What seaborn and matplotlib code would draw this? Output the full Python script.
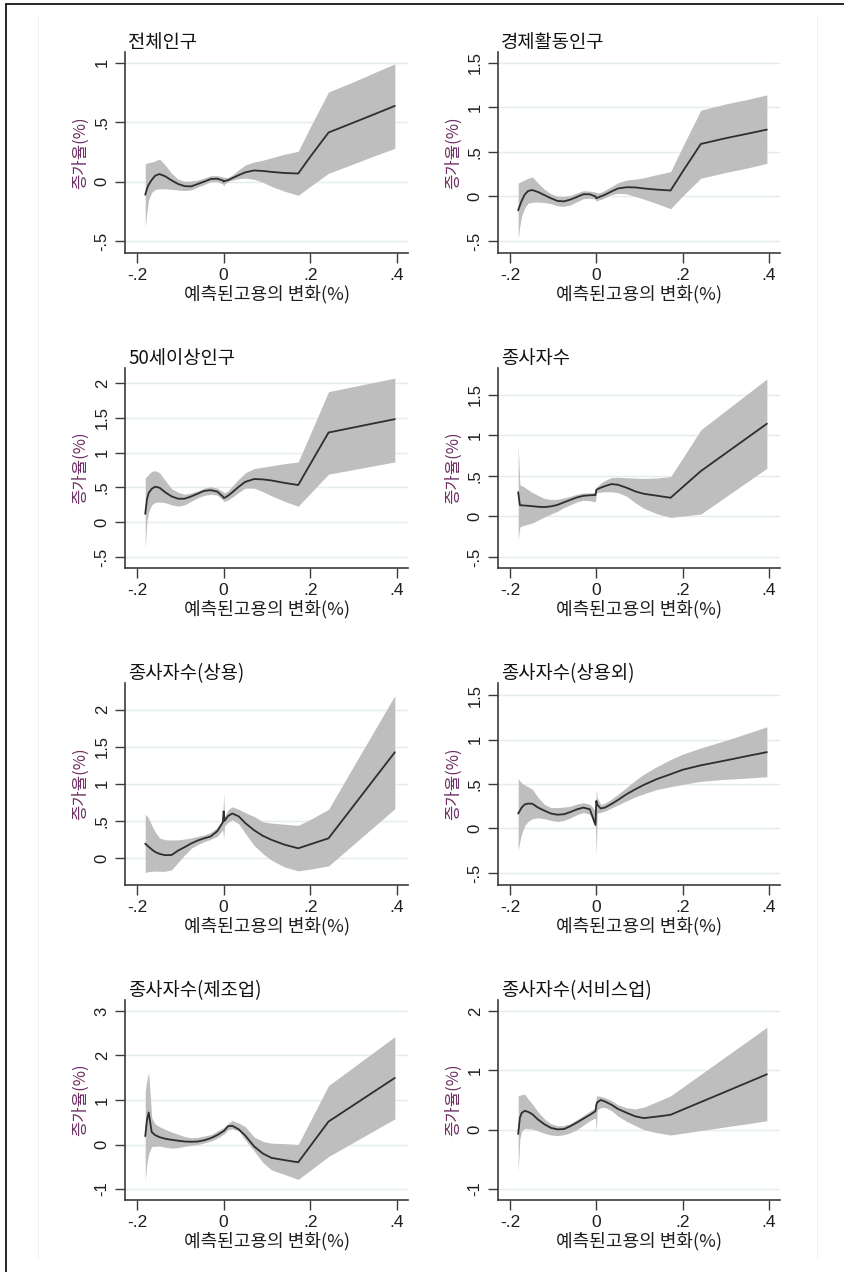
import matplotlib
matplotlib.use("Agg")
import matplotlib.pyplot as plt
from matplotlib.lines import Line2D
from matplotlib.ticker import FuncFormatter
import pandas as pd
import seaborn as sns

sns.set_theme(style="white")
plt.rcParams["font.family"] = ["Liberation Sans", "Noto Sans CJK KR", "DejaVu Sans"]
KR = ["Noto Sans CJK KR", "DejaVu Sans"]

# Predicted change in employment (%) at which the local fits are evaluated
x_grid = [-0.181, -0.177, -0.173, -0.166, -0.158, -0.148, -0.135, -0.120, -0.105,
          -0.090, -0.075, -0.060, -0.045, -0.030, -0.015, -0.002, 0.000, 0.002,
          0.010, 0.020, 0.035, 0.050, 0.070, 0.090, 0.110, 0.140, 0.172, 0.200,
          0.242, 0.300, 0.350, 0.395]

titles = ["전체인구", "경제활동인구", "50세이상인구", "종사자수",
          "종사자수(상용)", "종사자수(상용외)", "종사자수(제조업)", "종사자수(서비스업)"]
x_label = "예측된고용의 변화(%)"
y_label = "증가율(%)"
x_ticks = [-0.2, 0.0, 0.2, 0.4]

# 전체인구
fit_total = [-0.11, -0.06, -0.025, 0.015, 0.05, 0.064, 0.045, 0.01, -0.02, -0.038, -0.04,
             -0.02, 0.0, 0.022, 0.025, 0.01, 0.0, 0.005, 0.012, 0.03, 0.055, 0.078, 0.094,
             0.09, 0.082, 0.073, 0.068, 0.21, 0.413, 0.497, 0.57, 0.637]
lo_total = [-0.38, -0.25, -0.15, -0.09, -0.065, -0.06, -0.06, -0.065, -0.07, -0.075, -0.07,
            -0.045, -0.025, 0.0, 0.0, -0.02, -0.04, -0.02, 0.0, 0.012, 0.025, 0.03, 0.02,
            -0.005, -0.04, -0.08, -0.115, -0.04, 0.07, 0.15, 0.22, 0.28]
hi_total = [0.15, 0.155, 0.16, 0.165, 0.175, 0.19, 0.14, 0.07, 0.02, 0.003, 0.005, 0.014,
            0.03, 0.05, 0.05, 0.04, 0.04, 0.035, 0.035, 0.055, 0.1, 0.14, 0.165, 0.18, 0.2,
            0.23, 0.255, 0.46, 0.754, 0.84, 0.92, 0.99]

# 경제활동인구
fit_active = [-0.156, -0.10, -0.05, 0.02, 0.062, 0.072, 0.05, 0.015, -0.02, -0.05, -0.055,
              -0.035, -0.005, 0.025, 0.025, 0.0, -0.02, -0.015, 0.0, 0.02, 0.056, 0.09,
              0.104, 0.102, 0.09, 0.077, 0.067, 0.28, 0.59, 0.655, 0.705, 0.751]
lo_active = [-0.47, -0.33, -0.22, -0.13, -0.075, -0.065, -0.063, -0.068, -0.08, -0.105,
             -0.11, -0.095, -0.06, -0.025, -0.02, -0.03, -0.06, -0.045, -0.035, -0.015,
             0.02, 0.035, 0.03, 0.0, -0.03, -0.08, -0.138, 0.005, 0.205, 0.27, 0.32, 0.372]
hi_active = [0.15, 0.16, 0.17, 0.185, 0.205, 0.22, 0.15, 0.08, 0.03, 0.003, 0.0, 0.012,
             0.04, 0.065, 0.06, 0.05, 0.045, 0.04, 0.045, 0.07, 0.11, 0.155, 0.185, 0.195,
             0.21, 0.245, 0.279, 0.56, 0.97, 1.04, 1.09, 1.141]

# 50세이상인구
fit_50plus = [0.12, 0.33, 0.42, 0.48, 0.51, 0.495, 0.43, 0.37, 0.337, 0.337, 0.37, 0.41,
              0.45, 0.46, 0.44, 0.37, 0.35, 0.35, 0.38, 0.43, 0.51, 0.58, 0.62, 0.615, 0.6,
              0.565, 0.534, 0.836, 1.288, 1.361, 1.424, 1.48]
lo_50plus = [-0.37, 0.02, 0.15, 0.25, 0.285, 0.29, 0.28, 0.25, 0.23, 0.25, 0.3, 0.35, 0.385,
             0.4, 0.39, 0.32, 0.30, 0.30, 0.32, 0.36, 0.43, 0.49, 0.49, 0.44, 0.38, 0.30,
             0.23, 0.414, 0.69, 0.756, 0.814, 0.865]
hi_50plus = [0.64, 0.66, 0.69, 0.73, 0.74, 0.71, 0.6, 0.48, 0.43, 0.4, 0.42, 0.447, 0.49,
             0.51, 0.49, 0.44, 0.425, 0.425, 0.45, 0.52, 0.62, 0.71, 0.77, 0.79, 0.81, 0.84,
             0.865, 1.269, 1.875, 1.949, 2.013, 2.07]

# 종사자수
fit_workers = [0.30, 0.14, 0.138, 0.135, 0.132, 0.127, 0.12, 0.116, 0.125, 0.143, 0.175,
               0.205, 0.235, 0.255, 0.262, 0.265, 0.33, 0.335, 0.355, 0.375, 0.40, 0.392,
               0.355, 0.31, 0.28, 0.257, 0.231, 0.363, 0.56, 0.782, 0.973, 1.145]
lo_workers = [-0.29, -0.13, -0.118, -0.105, -0.095, -0.08, -0.045, -0.005, 0.03, 0.065, 0.11,
              0.145, 0.18, 0.2, 0.195, 0.18, 0.29, 0.293, 0.30, 0.305, 0.305, 0.295, 0.25,
              0.17, 0.10, 0.035, -0.012, 0.005, 0.03, 0.244, 0.429, 0.595]
hi_workers = [0.88, 0.39, 0.38, 0.36, 0.33, 0.295, 0.26, 0.222, 0.21, 0.212, 0.23, 0.25,
              0.275, 0.29, 0.29, 0.295, 0.365, 0.37, 0.41, 0.445, 0.48, 0.485, 0.478, 0.473,
              0.47, 0.475, 0.492, 0.72, 1.07, 1.308, 1.513, 1.698]

# 종사자수(상용)
fit_regular = [0.193, 0.17, 0.15, 0.115, 0.08, 0.055, 0.037, 0.04, 0.10, 0.146, 0.195,
               0.235, 0.265, 0.29, 0.36, 0.48, 0.63, 0.50, 0.565, 0.60, 0.56, 0.47, 0.375,
               0.30, 0.245, 0.18, 0.13, 0.184, 0.265, 0.705, 1.085, 1.426]
lo_regular = [-0.197, -0.19, -0.185, -0.18, -0.177, -0.18, -0.18, -0.16, -0.06, 0.04, 0.13,
              0.18, 0.22, 0.25, 0.29, 0.38, 0.25, 0.43, 0.48, 0.515, 0.46, 0.33, 0.17, 0.06,
              -0.03, -0.12, -0.175, -0.15, -0.108, 0.185, 0.437, 0.664]
hi_regular = [0.587, 0.565, 0.53, 0.44, 0.35, 0.27, 0.245, 0.242, 0.244, 0.255, 0.27, 0.29,
              0.31, 0.345, 0.41, 0.52, 0.88, 0.56, 0.65, 0.69, 0.655, 0.61, 0.56, 0.49, 0.47,
              0.455, 0.44, 0.52, 0.655, 1.24, 1.74, 2.19]

# 종사자수(상용외)
fit_nonreg = [0.168, 0.20, 0.235, 0.27, 0.28, 0.278, 0.235, 0.20, 0.168, 0.155, 0.16, 0.185,
              0.215, 0.235, 0.216, 0.04, 0.31, 0.27, 0.225, 0.235, 0.275, 0.32, 0.385, 0.44,
              0.49, 0.555, 0.61, 0.66, 0.71, 0.765, 0.815, 0.858]
lo_nonreg = [-0.25, -0.14, -0.06, 0.03, 0.08, 0.11, 0.12, 0.11, 0.09, 0.078, 0.09, 0.12,
             0.155, 0.18, 0.16, 0.02, -0.3, 0.17, 0.18, 0.195, 0.23, 0.265, 0.31, 0.355,
             0.39, 0.438, 0.47, 0.495, 0.53, 0.553, 0.567, 0.582]
hi_nonreg = [0.56, 0.535, 0.51, 0.49, 0.47, 0.44, 0.35, 0.27, 0.235, 0.235, 0.24, 0.25,
             0.275, 0.29, 0.272, 0.2, 0.44, 0.35, 0.27, 0.285, 0.33, 0.385, 0.46, 0.54,
             0.61, 0.695, 0.775, 0.835, 0.905, 0.99, 1.07, 1.142]

# 종사자수(제조업)
fit_manuf = [0.187, 0.55, 0.72, 0.277, 0.21, 0.165, 0.13, 0.105, 0.085, 0.067, 0.062,
             0.067, 0.095, 0.142, 0.21, 0.29, 0.30, 0.32, 0.41, 0.42, 0.34, 0.2, -0.04,
             -0.2, -0.3, -0.35, -0.4, -0.034, 0.516, 0.887, 1.208, 1.496]
lo_manuf = [-0.81, -0.40, -0.20, -0.045, -0.04, -0.037, -0.06, -0.082, -0.07, -0.04, -0.02,
            0.0, 0.035, 0.075, 0.14, 0.22, 0.23, 0.25, 0.33, 0.35, 0.30, 0.10, -0.14, -0.40,
            -0.57, -0.67, -0.785, -0.58, -0.27, 0.05, 0.327, 0.576]
hi_manuf = [1.21, 1.45, 1.62, 0.60, 0.46, 0.40, 0.34, 0.28, 0.23, 0.18, 0.15, 0.16, 0.19,
            0.22, 0.30, 0.37, 0.38, 0.40, 0.47, 0.54, 0.48, 0.40, 0.17, 0.07, 0.03, 0.02,
            0.0, 0.53, 1.324, 1.74, 2.10, 2.423]

# 종사자수(서비스업)
fit_service = [-0.073, 0.2, 0.28, 0.318, 0.30, 0.26, 0.17, 0.09, 0.03, 0.005, 0.01, 0.06,
               0.12, 0.185, 0.25, 0.31, 0.42, 0.46, 0.50, 0.475, 0.42, 0.35, 0.285, 0.225,
               0.195, 0.22, 0.251, 0.337, 0.465, 0.642, 0.795, 0.933]
lo_service = [-0.715, -0.15, -0.03, 0.02, 0.015, 0.01, -0.02, -0.06, -0.09, -0.1, -0.085,
              -0.05, 0.0, 0.075, 0.15, 0.2, -0.02, 0.33, 0.37, 0.375, 0.32, 0.23, 0.14,
              0.07, 0.0, -0.05, -0.09, -0.06, -0.015, 0.048, 0.10, 0.15]
hi_service = [0.57, 0.58, 0.59, 0.598, 0.52, 0.43, 0.30, 0.18, 0.10, 0.065, 0.07, 0.105,
              0.17, 0.24, 0.31, 0.37, 0.57, 0.57, 0.56, 0.54, 0.49, 0.42, 0.37, 0.35, 0.38,
              0.47, 0.57, 0.715, 0.933, 1.233, 1.492, 1.726]

y_ticks = [
    [-0.5, 0, 0.5, 1],
    [-0.5, 0, 0.5, 1, 1.5],
    [-0.5, 0, 0.5, 1, 1.5, 2],
    [-0.5, 0, 0.5, 1, 1.5],
    [0, 0.5, 1, 1.5, 2],
    [-0.5, 0, 0.5, 1, 1.5],
    [-1, 0, 1, 2, 3],
    [-1, 0, 1, 2],
]
y_limits = [(-0.60, 1.09), (-0.635, 1.623), (-0.658, 2.215), (-0.636, 1.833),
            (-0.365, 2.36), (-0.635, 1.635), (-1.247, 3.247), (-1.185, 2.185)]
x_limits = (-0.2277, 0.4254)

series = [
    (fit_total, lo_total, hi_total),
    (fit_active, lo_active, hi_active),
    (fit_50plus, lo_50plus, hi_50plus),
    (fit_workers, lo_workers, hi_workers),
    (fit_regular, lo_regular, hi_regular),
    (fit_nonreg, lo_nonreg, hi_nonreg),
    (fit_manuf, lo_manuf, hi_manuf),
    (fit_service, lo_service, hi_service),
]


def stata_num(v, pos=None):
    s = f"{v:g}"
    if s.startswith("0."):
        s = s[1:]
    elif s.startswith("-0."):
        s = "-" + s[2:]
    return s


W, H = 844, 1272
fig = plt.figure(figsize=(W / 100, H / 100), dpi=100)
fig.patch.set_facecolor("white")

col_left = [125, 498]
col_width = [283, 282]
row_top = [52, 368, 683, 1000]
row_bottom = [253, 568, 885, 1200]

axis_color = "#3c3c3c"
for i, (title, (fit, lo, hi)) in enumerate(zip(titles, series)):
    r, c = divmod(i, 2)
    rect = [col_left[c] / W, 1 - row_bottom[r] / H, col_width[c] / W,
            (row_bottom[r] - row_top[r]) / H]
    ax = fig.add_axes(rect)
    ax.set_facecolor("white")

    ax.fill_between(x_grid, lo, hi, color="#bebebe", linewidth=0, zorder=2)
    df = pd.DataFrame({"x": x_grid, "y": fit})
    sns.lineplot(data=df, x="x", y="y", ax=ax, color="#2e2e2e", linewidth=1.3,
                 errorbar=None, sort=False, zorder=3)

    ax.set_xlim(*x_limits)
    ax.set_ylim(*y_limits[i])
    ax.set_xticks(x_ticks)
    ax.set_yticks(y_ticks[i])
    ax.xaxis.set_major_formatter(FuncFormatter(stata_num))
    ax.yaxis.set_major_formatter(FuncFormatter(stata_num))

    ax.grid(False)
    ax.yaxis.grid(True, color="#e3edef", linewidth=1.0)
    ax.set_axisbelow(True)

    for side in ("top", "right"):
        ax.spines[side].set_visible(False)
    for side in ("left", "bottom"):
        ax.spines[side].set_color(axis_color)
        ax.spines[side].set_linewidth(1.2)

    ax.tick_params(axis="both", which="major", direction="out", length=7, width=1.0,
                   color=axis_color, labelcolor="#1e1e1e", bottom=True, left=True)
    ax.tick_params(axis="x", labelsize=12.5, pad=4)
    ax.tick_params(axis="y", labelsize=12, pad=4, labelrotation=90)
    for lbl in ax.get_yticklabels():
        lbl.set_va("center")
        lbl.set_ha("right")

    ax.set_xlabel(x_label, fontsize=13, family=KR, color="#1e1e1e", labelpad=1)
    ax.set_ylabel(y_label, fontsize=12, family=KR, color="#6d2e63")
    ax.yaxis.label.set_va("center")
    ax.yaxis.set_label_coords(-45 / col_width[c], 0.5)

    ax.text(3 / col_width[c], 1.02, title, transform=ax.transAxes, ha="left",
            va="baseline", fontsize=13.5, family=KR, color="#111111")

# outer frame and faint inner graph-region edges
def px_line(x0, y0, x1, y1, **kw):
    fig.add_artist(Line2D([x0 / W, x1 / W], [1 - y0 / H, 1 - y1 / H],
                          transform=fig.transFigure, **kw))

px_line(5.5, 3.5, W, 3.5, color="black", linewidth=1.2)
px_line(5.5, 3.5, 5.5, H, color="black", linewidth=1.2)
px_line(38, 17, 38, 1258, color="#f0f0f0", linewidth=0.8)
px_line(817, 17, 817, 1258, color="#f0f0f0", linewidth=0.8)

fig.savefig("out.png", dpi=100, facecolor="white")
